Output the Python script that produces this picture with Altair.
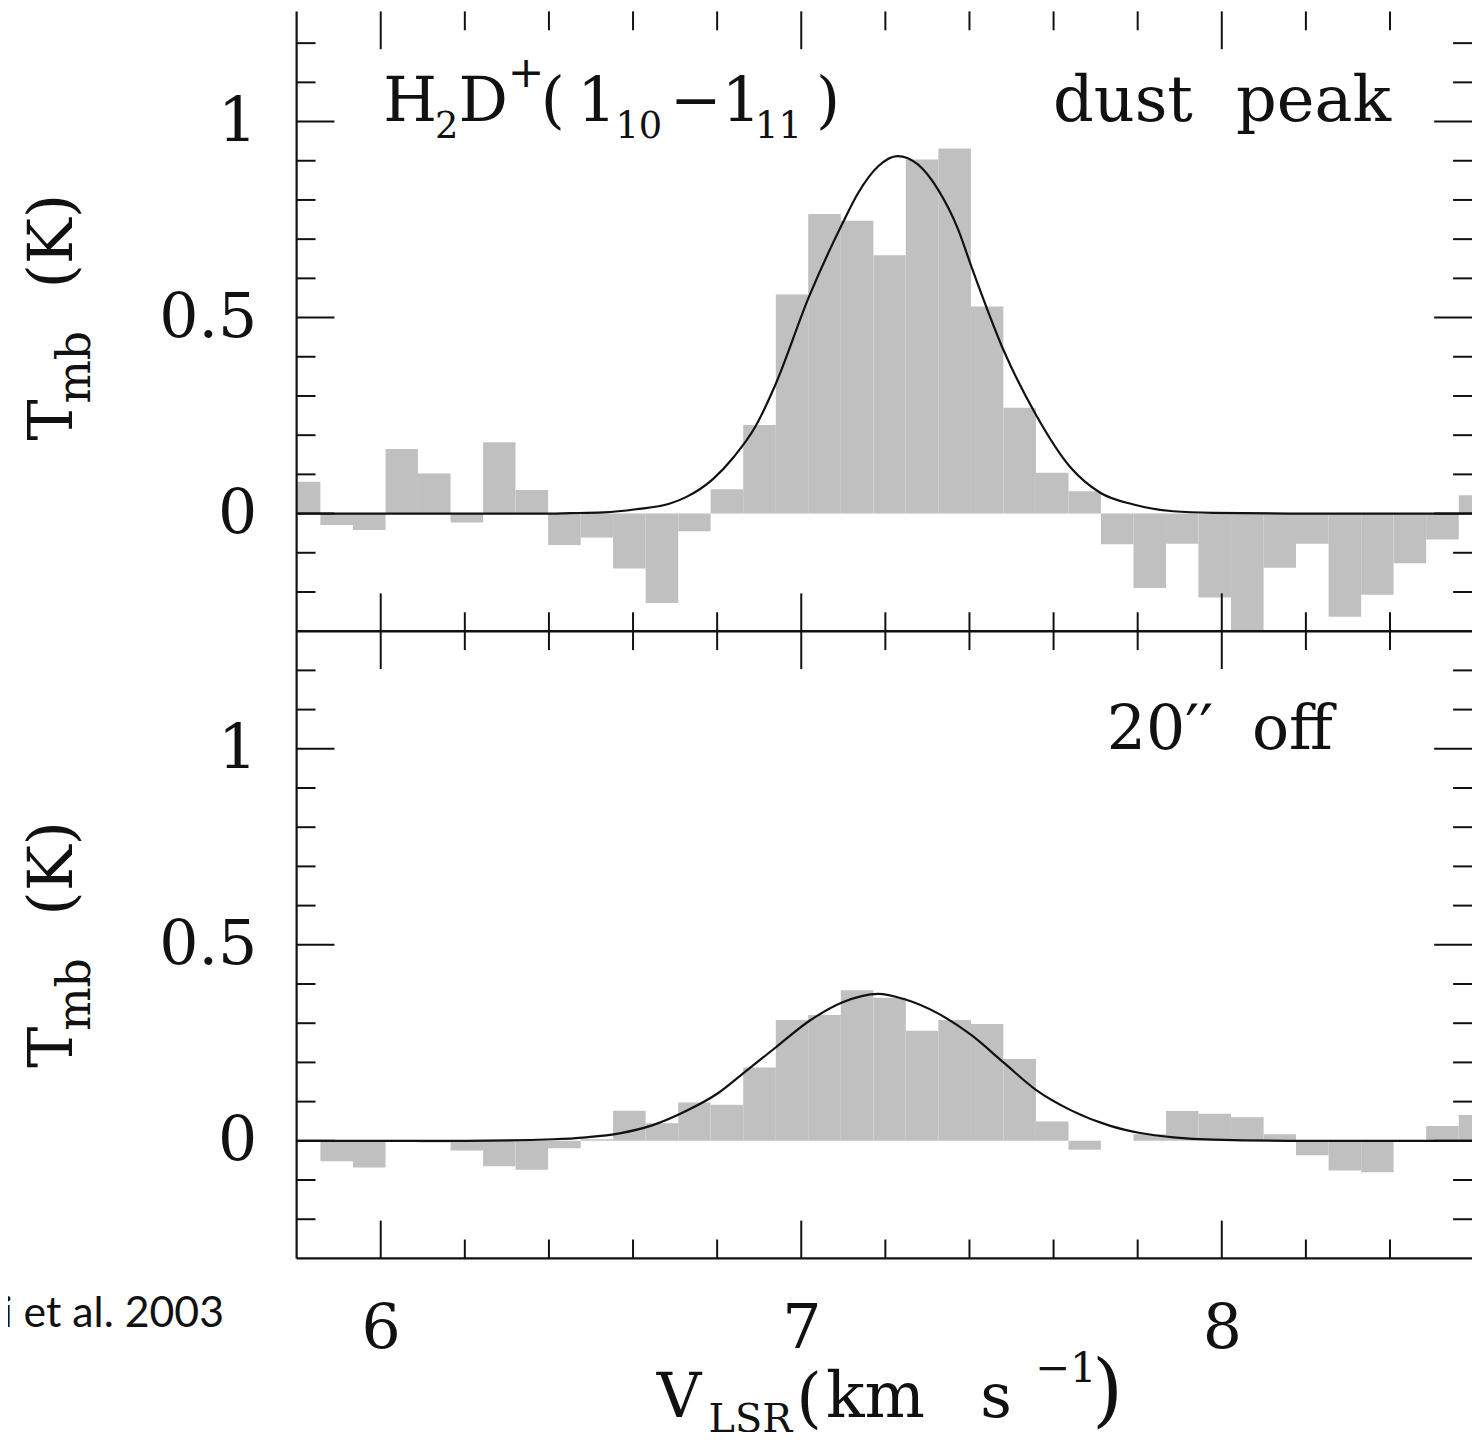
import altair as alt
import pandas as pd

# ---------------- data ----------------
# channel centre velocities (km/s)
v_center = [5.818, 5.895, 5.973, 6.050, 6.127, 6.205, 6.282, 6.359, 6.437, 6.514,
            6.591, 6.669, 6.746, 6.823, 6.901, 6.978, 7.055, 7.133, 7.210, 7.287,
            7.365, 7.442, 7.519, 7.597, 7.674, 7.751, 7.829, 7.906, 7.983, 8.061,
            8.138, 8.215, 8.293, 8.370, 8.447, 8.525, 8.602]
# T_mb (K) at the dust peak
tmb_peak = [0.081, -0.029, -0.042, 0.165, 0.102, -0.023, 0.182, 0.060, -0.080, -0.061,
            -0.140, -0.228, -0.045, 0.062, 0.226, 0.559, 0.764, 0.747, 0.659, 0.903,
            0.931, 0.528, 0.270, 0.104, 0.057, -0.078, -0.190, -0.077, -0.214, -0.300,
            -0.138, -0.077, -0.263, -0.207, -0.127, -0.066, 0.047]
# T_mb (K) 20" off
tmb_off = [0.000, -0.052, -0.068, 0.002, -0.004, -0.025, -0.065, -0.074, -0.019, 0.004,
           0.077, 0.045, 0.098, 0.092, 0.187, 0.308, 0.321, 0.384, 0.365, 0.281,
           0.308, 0.298, 0.209, 0.049, -0.023, 0.000, 0.017, 0.076, 0.069, 0.060,
           0.017, -0.037, -0.076, -0.080, 0.002, 0.038, 0.066]
# fitted profiles, points
fit_peak_v = [5.80, 6.20, 6.40, 6.45, 6.53, 6.607, 6.686, 6.726, 6.79, 6.84, 6.891,
              6.939, 7.018, 7.097, 7.136, 7.183, 7.229, 7.278, 7.325, 7.373, 7.404,
              7.483, 7.558, 7.64, 7.711, 7.79, 7.885, 7.98, 8.20, 8.60]
fit_peak_t = [0.000, 0.000, 0.000, 0.001, 0.003, 0.011, 0.025, 0.042, 0.088, 0.145, 0.222,
              0.330, 0.552, 0.738, 0.819, 0.886, 0.912, 0.890, 0.827, 0.725, 0.632,
              0.412, 0.252, 0.118, 0.053, 0.023, 0.006, 0.002, 0.000, 0.000]
fit_off_v = [5.80, 6.20, 6.41, 6.489, 6.568, 6.647, 6.726, 6.80, 6.864, 6.939, 7.018,
             7.097, 7.183, 7.246, 7.325, 7.404, 7.483, 7.558, 7.643, 7.735, 7.806,
             7.885, 7.98, 8.20, 8.60]
fit_off_t = [0.000, 0.000, 0.004, 0.009, 0.019, 0.040, 0.076, 0.120, 0.174, 0.238, 0.305,
             0.353, 0.375, 0.361, 0.325, 0.270, 0.198, 0.130, 0.077, 0.038, 0.020,
             0.009, 0.003, 0.000, 0.000]

x_tick_major = [6, 7, 8]
x_tick_minor = [6.2, 6.4, 6.6, 6.8, 7.2, 7.4, 7.6, 7.8, 8.2, 8.4]
y_tick_major = [0, 0.5, 1]
y_tick_minor = [-0.2, -0.1, 0.1, 0.2, 0.3, 0.4, 0.6, 0.7, 0.8, 0.9, 1.1, 1.2]
x_labels = [6, 7, 8]
y_labels = [0, 0.5, 1]

# ---------------- layout / style ----------------
SERIF = "DejaVu Serif"
SANS = "Lato"
INK = "#111111"
FILL = "#c0c0c0"
X0, X1 = 5.8, 8.595          # velocity range shown
W = 1181                     # plot width (px)
OFF = 1.6                    # vertical offset of the upper panel on the shared y scale
YMIN, YMAX = -0.3, 2.881     # lower panel -0.3 .. 1.3, upper panel -0.3 .. 1.281
H = 1253
PANEL_EDGE = 1.3             # divider between the panels
TICK_MINOR, TICK_MAJOR = 19, 38
MAIN, SUB = 62, 37

PY = H / (YMAX - YMIN)
PX = W / (X1 - X0)

xs = alt.Scale(domain=[X0, X1], nice=False, zero=False)
ys = alt.Scale(domain=[YMIN, YMAX], nice=False, zero=False)
xaxis = alt.Axis(values=x_labels, labelExpr="'' + datum.value", ticks=False, tickSize=0,
                 domain=False, grid=False, labelFont=SERIF, labelFontSize=MAIN,
                 labelPadding=41, labelColor=INK)
ylab_pos = y_labels + [v + OFF for v in y_labels]
yaxis = alt.Axis(values=ylab_pos,
                 labelExpr="format(datum.value >= 1.5 ? datum.value - %s : datum.value, '.1~f')" % OFF,
                 ticks=False, tickSize=0, domain=False, grid=False, labelFont=SERIF,
                 labelFontSize=MAIN, labelPadding=40, labelColor=INK)


def X(f):
    return alt.X(f + ":Q", scale=xs, axis=xaxis, title=None)


def Y(f):
    return alt.Y(f + ":Q", scale=ys, axis=yaxis, title=None)


def channel_table(values, off):
    n = len(v_center)
    rows = []
    for i, (c, t) in enumerate(zip(v_center, values)):
        lo = (v_center[i - 1] + c) / 2 if i > 0 else c - (v_center[1] - v_center[0]) / 2
        hi = (c + v_center[i + 1]) / 2 if i < n - 1 else c + (v_center[-1] - v_center[-2]) / 2
        rows.append({"lo": lo, "hi": hi, "y": t + off, "base": off})
    return pd.DataFrame(rows)


layers = []
for vals, off in ((tmb_peak, OFF), (tmb_off, 0.0)):
    layers.append(alt.Chart(channel_table(vals, off)).mark_rect(color=FILL, clip=True).encode(
        x=X("lo"), x2="hi", y=Y("y"), y2="base"))

for fv, ft, off in ((fit_peak_v, fit_peak_t, OFF), (fit_off_v, fit_off_t, 0.0)):
    df = pd.DataFrame({"v": fv, "y": [t + off for t in ft]})
    layers.append(alt.Chart(df).mark_line(color=INK, strokeWidth=2.2, interpolate="monotone",
                                          clip=True).encode(x=X("v"), y=Y("y")))

# inward ticks on every panel edge
vrows, hrows = [], []
for vals, L in ((x_tick_major, TICK_MAJOR), (x_tick_minor, TICK_MINOR)):
    for v in vals:
        for edge, sign in ((YMIN, 1), (PANEL_EDGE, 1), (PANEL_EDGE, -1), (YMAX, -1)):
            vrows.append({"v": v, "a": edge, "b": edge + sign * L / PY})
for vals, L in ((y_tick_major, TICK_MAJOR), (y_tick_minor, TICK_MINOR)):
    for t in vals:
        for off in (0.0, OFF):
            hrows.append({"y": t + off, "a": X0, "b": X0 + L / PX})
            hrows.append({"y": t + off, "a": X1, "b": X1 - L / PX})
layers.append(alt.Chart(pd.DataFrame(vrows)).mark_rule(color=INK, strokeWidth=2).encode(
    x=X("v"), y=Y("a"), y2="b"))
layers.append(alt.Chart(pd.DataFrame(hrows)).mark_rule(color=INK, strokeWidth=2).encode(
    x=X("a"), x2="b", y=Y("y")))
# frame: left edge, bottom edge and the divider (top and right edges lie outside the crop)
layers.append(alt.Chart(pd.DataFrame({"a": [X0, X0], "b": [X1, X1],
                                      "y": [PANEL_EDGE, YMIN], "w": [2.6, 2.2]})).mark_rule(
    color=INK).encode(x=X("a"), x2="b", y=Y("y"),
                      strokeWidth=alt.StrokeWidth("w:Q", scale=None, legend=None)))
layers.append(alt.Chart(pd.DataFrame({"v": [X0], "a": [YMIN], "b": [YMAX]})).mark_rule(
    color=INK, strokeWidth=2.2).encode(x=X("v"), y=Y("a"), y2="b"))

# ---------------- text ----------------
ytitle = [
    ([(5.2652, 0.1866, "T"), (5.2652, 0.5749, "(K)")], MAIN, 270, SERIF, "left"),
    ([(5.3078, 0.2805, "mb")], 46, 270, SERIF, "left"),
]
top_texts = ytitle + [
    ([(6.0059, 1.0005, "H"), (6.1850, 1.0005, "D"), (6.3805, 1.0005, "("),
      (6.4673, 1.0005, "1"), (6.6881, 1.0005, "\u22121"), (7.0353, 1.0005, ")")],
     MAIN, 0, SERIF, "left"),
    ([(7.5984, 1.0005, "dust"), (8.0338, 1.0005, "peak")], 64, 0, SERIF, "left"),
    ([(6.1290, 0.9581, "2"), (6.5580, 0.9581, "10"), (6.8900, 0.9581, "11")],
     SUB, 0, SERIF, "left"),
    ([(6.3020, 1.0876, "+")], 44, 0, SERIF, "left"),
]
bot_texts = ytitle + [
    ([(7.7262, 0.999, "20"), (8.0717, 0.999, "off")], MAIN, 0, SERIF, "left"),
    ([(7.9130, 0.999, "\u2032\u2032")], MAIN, 0, SERIF, "left"),
    ([(6.6566, -0.7040, "V"), (7.4256, -0.7040, "s")], MAIN, 0, SERIF, "left"),
    ([(7.0589, -0.7040, "km")], 64, 0, SERIF, "left"),
    ([(6.9879, -0.7120, "(")], 66, 0, SERIF, "left"),
    ([(7.6911, -0.7040, ")")], 80, 0, SERIF, "left"),
    ([(6.7797, -0.7440, "LSR")], 40, 0, SERIF, "left"),
    ([(7.5558, -0.6160, "\u22121")], 42, 0, SERIF, "left"),
    ([(5.6273, -0.4752, "i et al. 2003")], 43, 0, SANS, "right"),
]
for texts, off in ((top_texts, OFF), (bot_texts, 0.0)):
    for pieces, size, angle, font, align in texts:
        df = pd.DataFrame([(v, t + off, s) for v, t, s in pieces], columns=["v", "y", "txt"])
        layers.append(alt.Chart(df).mark_text(
            font=font, fontSize=size, angle=angle, align=align, baseline="alphabetic",
            color=INK).encode(x=X("v"), y=Y("y"), text="txt:N"))

chart = (
    alt.layer(*layers)
    .properties(width=W, height=H, background="white",
                autosize=alt.AutoSizeParams(type="none"),
                padding={"left": 290, "top": 0, "right": 0, "bottom": 171})
    .configure_view(stroke="transparent", strokeWidth=0)
    .configure_axis(grid=False)
)

chart.save("out.html", embed_options={"renderer": "svg", "actions": False})
